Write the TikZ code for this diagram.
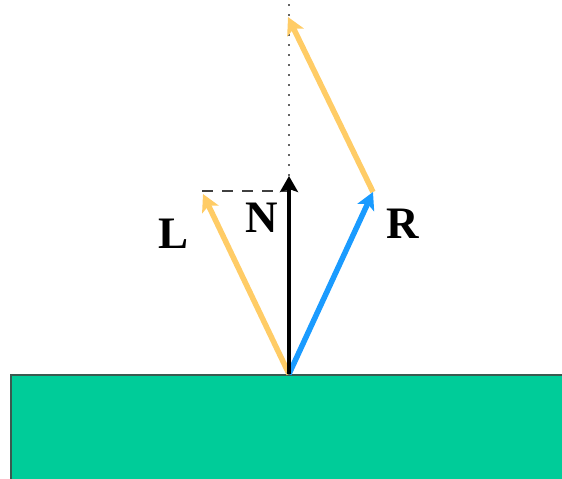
\documentclass[tikz,border=0pt]{standalone}
\usepackage{fontspec}
\setmainfont{Liberation Serif}
\usetikzlibrary{arrows.meta}
\definecolor{lightray}{HTML}{FFCC66}
\definecolor{reflray}{HTML}{1A9BFF}
\definecolor{surfgreen}{HTML}{00CC99}
\definecolor{surfedge}{HTML}{3A5A50}
\tikzset{
  ray/.style={line width=5.5pt, -{Stealth[length=17pt,width=18pt,inset=4pt]}},
  normalray/.style={line width=4pt, -{Stealth[length=16pt,width=18pt,inset=3pt]}},
  vlabel/.style={font=\fontsize{45}{48}\selectfont\bfseries, inner sep=0pt},
}
\begin{document}
\begin{tikzpicture}[x=1pt,y=-1pt]
\useasboundingbox (0,0) rectangle (562,479);
\clip (0,0) rectangle (562,479);
% surface
\draw[fill=surfgreen, draw=surfedge, line width=2pt] (11,375) rectangle (600,520);
\coordinate (O) at (289,374);
\coordinate (Ltip) at (203,194);
\coordinate (Ntip) at (289,176);
\coordinate (Rtip) at (373,192);
\coordinate (Rtop) at (288,17);
\coordinate (Dtop) at (289,4);
\coordinate (Dleft) at (202,191);
\coordinate (Dright) at (289,191);
% construction lines
\draw[gray!80!black, line width=2.5pt, dash pattern=on 2.5pt off 7.5pt] (Ntip) -- (Dtop);
\draw[black!75, line width=2.5pt, dash pattern=on 11pt off 9pt] (Dleft) -- (Dright);
% rays
\draw[ray, lightray] (O) -- (Ltip);
\draw[ray, lightray] (Rtip) -- (Rtop);
\draw[ray, reflray] (O) -- (Rtip);
\draw[normalray, black] (O) -- (Ntip);
% labels
\node[vlabel] (Llab) at (174,234) {L};
\node[vlabel] (Nlab) at (262,218) {N};
\node[vlabel] (Rlab) at (403,224) {R};
\end{tikzpicture}
\end{document}
